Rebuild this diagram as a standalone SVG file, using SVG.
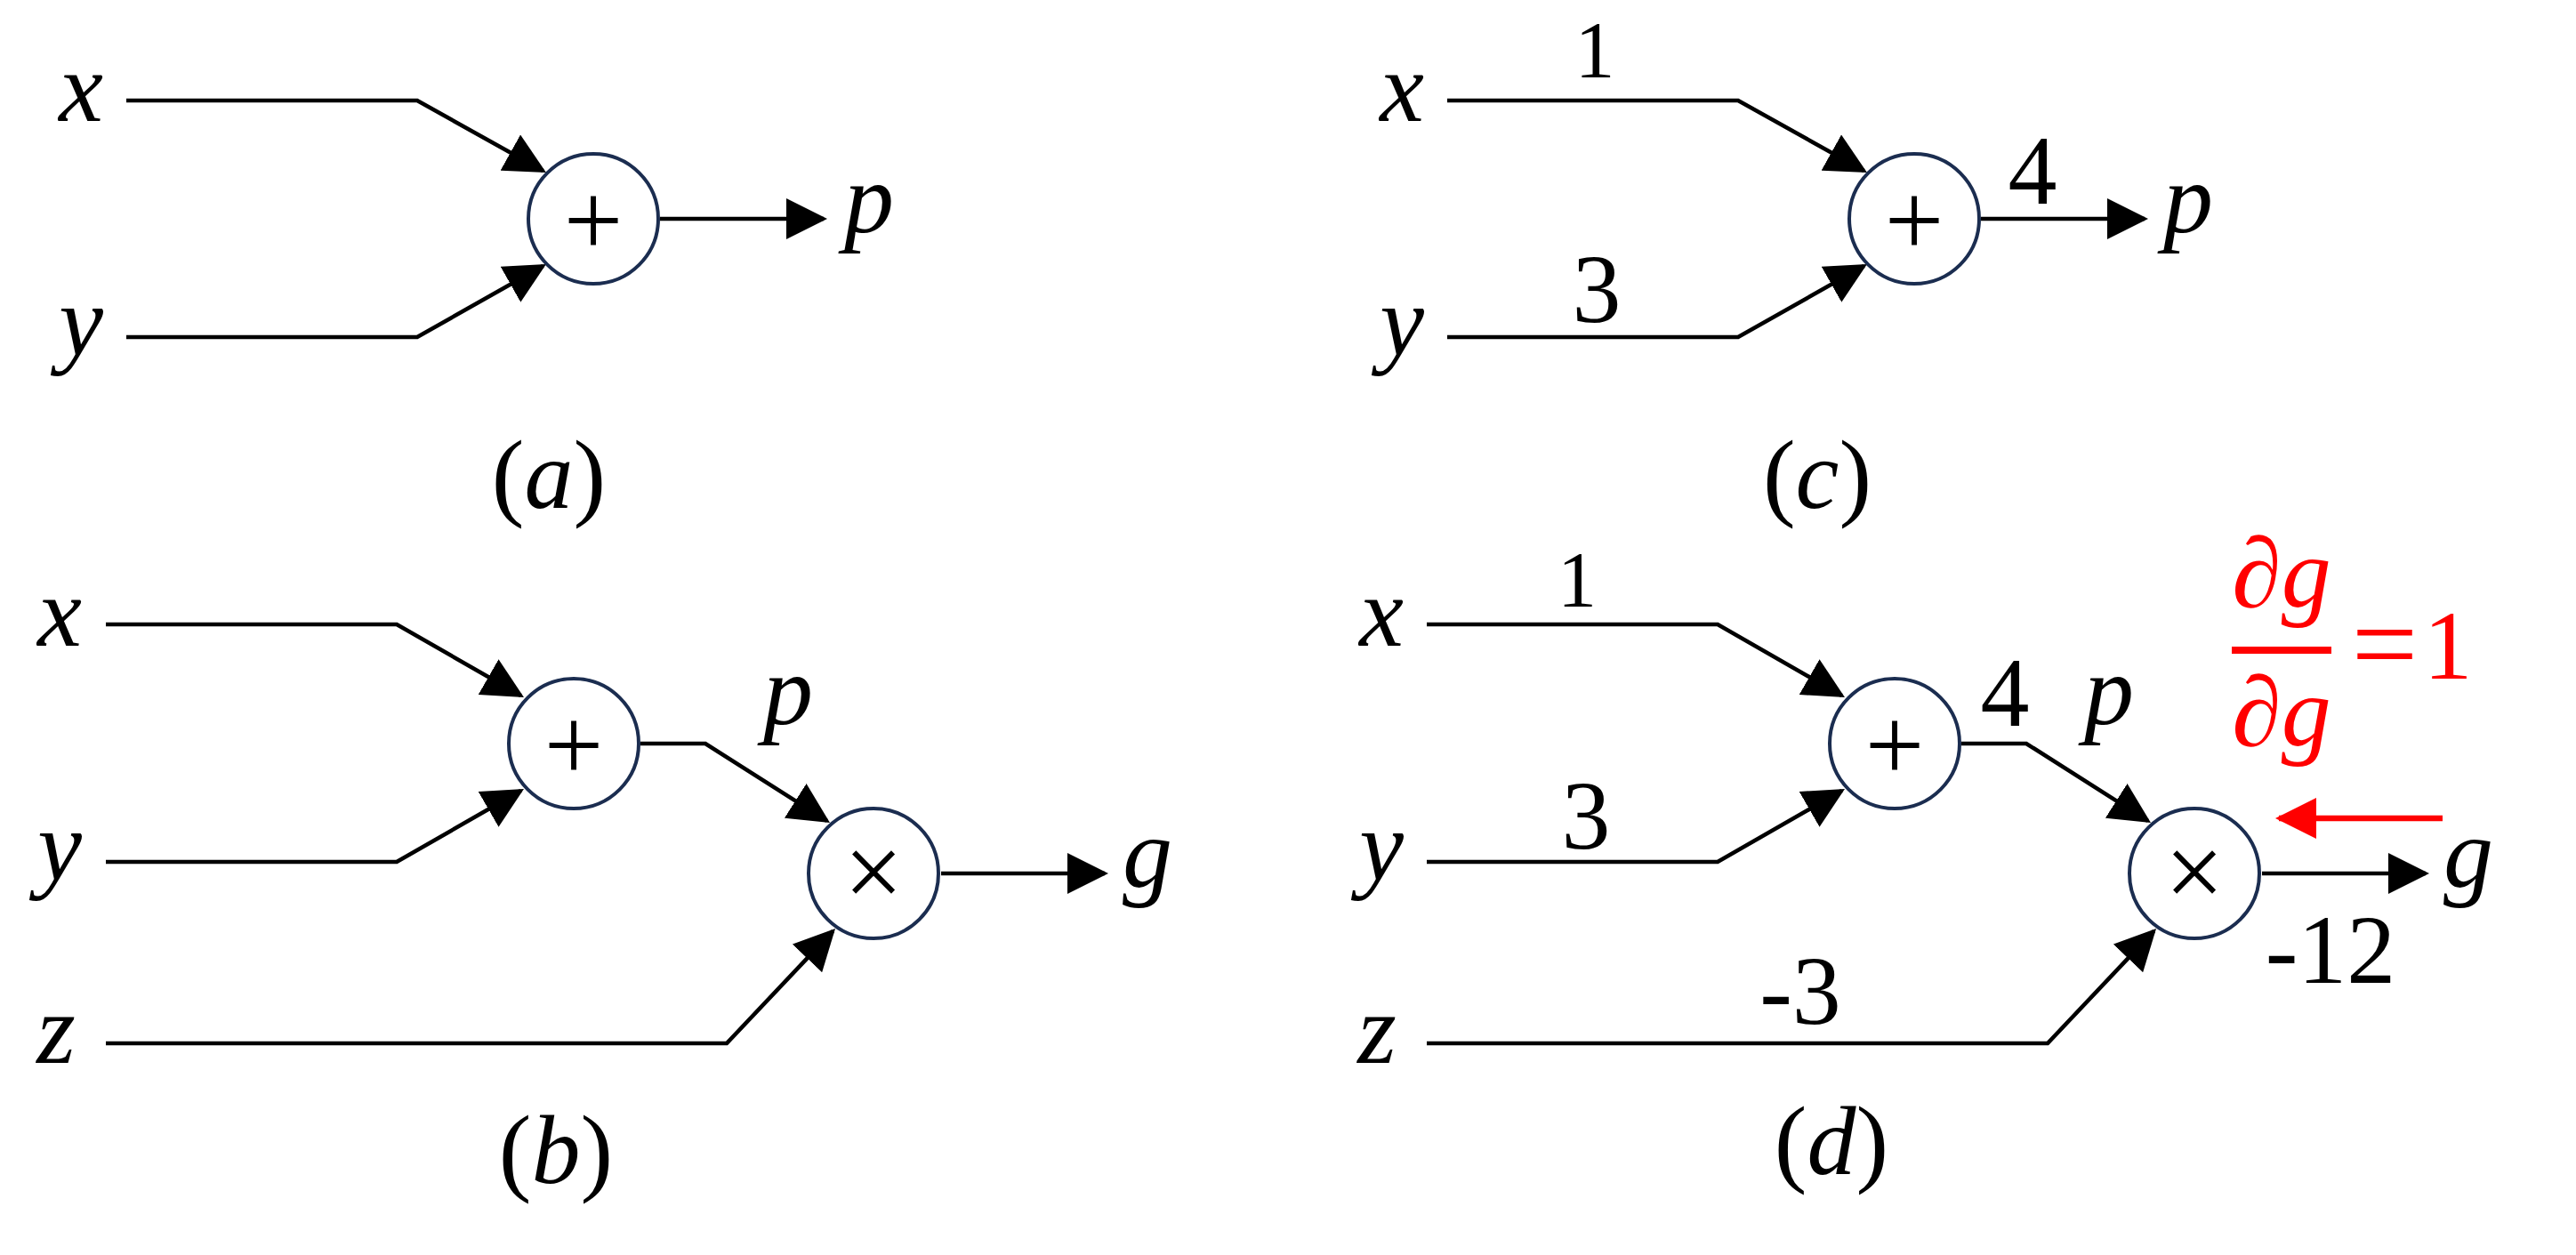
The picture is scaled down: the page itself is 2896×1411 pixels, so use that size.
<svg xmlns="http://www.w3.org/2000/svg" width="2896" height="1411" viewBox="0 0 2896 1411" font-family="'Liberation Serif', 'Times New Roman', 'DejaVu Serif', serif">
<style>
.ln{fill:none;stroke:#000;stroke-width:4.6;stroke-linejoin:miter}
.red{fill:none;stroke:#f00;stroke-width:6.5}
.nd{fill:#fff;stroke:#1b2d50;stroke-width:4}
text{font-family:'Liberation Serif','Times New Roman','DejaVu Serif',serif}
.v{font-style:italic;font-size:112px;text-anchor:middle;fill:#000}
.n{font-size:110px;text-anchor:middle;fill:#000}
.op{font-size:118px;text-anchor:middle;fill:#000}
.rt{fill:#f00}
</style>
<defs>
<marker id="ah" markerUnits="userSpaceOnUse" markerWidth="46" markerHeight="46" viewBox="0 0 46 46" refX="42" refY="23" orient="auto"><path d="M0,0 L46,23 L0,46 z" fill="#000"/></marker>
<marker id="ahr" markerUnits="userSpaceOnUse" markerWidth="46" markerHeight="46" viewBox="0 0 46 46" refX="42" refY="23" orient="auto"><path d="M0,0 L46,23 L0,46 z" fill="#f00"/></marker>
</defs>
<rect width="2896" height="1411" fill="#fff"/>

<g id="connectors">
<path class="ln" d="M142,113 H469 L610.5,192" marker-end="url(#ah)"/>
<path class="ln" d="M142,379 H469 L610.5,299" marker-end="url(#ah)"/>
<path class="ln" d="M742,246 H926" marker-end="url(#ah)"/>
<path class="ln" d="M1627,113 H1954 L2095.5,192" marker-end="url(#ah)"/>
<path class="ln" d="M1627,379 H1954 L2095.5,299" marker-end="url(#ah)"/>
<path class="ln" d="M2227,246 H2411" marker-end="url(#ah)"/>
<path class="ln" d="M119,702 H446 L585.5,782" marker-end="url(#ah)"/>
<path class="ln" d="M119,969 H446 L585.5,889" marker-end="url(#ah)"/>
<path class="ln" d="M720,836 H793 L929.6,922.9" marker-end="url(#ah)"/>
<path class="ln" d="M119,1173 H817 L936.3,1046.9" marker-end="url(#ah)"/>
<path class="ln" d="M1058,982 H1242" marker-end="url(#ah)"/>
<path class="ln" d="M1604,702 H1931 L2070.5,782" marker-end="url(#ah)"/>
<path class="ln" d="M1604,969 H1931 L2070.5,889" marker-end="url(#ah)"/>
<path class="ln" d="M2205,836 H2278 L2414.6,922.9" marker-end="url(#ah)"/>
<path class="ln" d="M1604,1173 H2302 L2421.3,1046.9" marker-end="url(#ah)"/>
<path class="ln" d="M2543,982 H2727" marker-end="url(#ah)"/>
<path class="red" d="M2746,920 H2562" marker-end="url(#ahr)"/>
</g>

<g id="node-a-plus"><circle class="nd" cx="667" cy="246" r="73"/><text class="op" x="667" y="288">+</text></g>
<g id="node-c-plus"><circle class="nd" cx="2152" cy="246" r="73"/><text class="op" x="2152" y="288">+</text></g>
<g id="node-b-plus"><circle class="nd" cx="645" cy="836" r="73"/><text class="op" x="645" y="878">+</text></g>
<g id="node-b-times"><circle class="nd" cx="982" cy="982" r="73"/><text class="op" x="982" y="1020">×</text></g>
<g id="node-d-plus"><circle class="nd" cx="2130" cy="836" r="73"/><text class="op" x="2130" y="878">+</text></g>
<g id="node-d-times"><circle class="nd" cx="2467" cy="982" r="73"/><text class="op" x="2467" y="1020">×</text></g>

<g id="labels-a">
<text class="v" x="91" y="136">x</text>
<text class="v" x="91" y="399">y</text>
<text class="v" x="977" y="261">p</text>
<text class="n" x="617" y="571">(<tspan font-style="italic">a</tspan>)</text>
</g>
<g id="labels-c">
<text class="v" x="1576" y="136">x</text>
<text class="v" x="1576" y="399">y</text>
<text class="v" x="2460" y="261">p</text>
<text class="n" x="1793" y="87" style="font-size:90px">1</text>
<text class="n" x="1795" y="362">3</text>
<text class="n" x="2285" y="229">4</text>
<text class="n" x="2043" y="571">(<tspan font-style="italic">c</tspan>)</text>
</g>
<g id="labels-b">
<text class="v" x="67" y="726">x</text>
<text class="v" x="67" y="989">y</text>
<text class="v" x="63" y="1195">z</text>
<text class="v" x="886" y="814">p</text>
<text class="v" x="1290" y="997">g</text>
<text class="n" x="625" y="1330">(<tspan font-style="italic">b</tspan>)</text>
</g>
<g id="labels-d">
<text class="v" x="1553" y="726">x</text>
<text class="v" x="1553" y="989">y</text>
<text class="v" x="1548" y="1195">z</text>
<text class="v" x="2371" y="814">p</text>
<text class="v" x="2775" y="997">g</text>
<text class="n" x="1773" y="681" style="font-size:88px">1</text>
<text class="n" x="1783" y="954">3</text>
<text class="n" x="2254" y="816">4</text>
<text class="n" x="2024" y="1151">-3</text>
<text class="n" x="2620" y="1105">-12</text>
<text class="n" x="2059" y="1320">(<tspan font-style="italic">d</tspan>)</text>
</g>
<g id="gradient-label">
<text class="v rt" x="2565" y="682">∂g</text>
<rect x="2509" y="727" width="112" height="8" fill="#f00"/>
<text class="v rt" x="2565" y="838">∂g</text>
<text class="n rt" x="2681" y="768" style="font-size:132px">=</text>
<text class="n rt" x="2752" y="763">1</text>
</g>
</svg>
